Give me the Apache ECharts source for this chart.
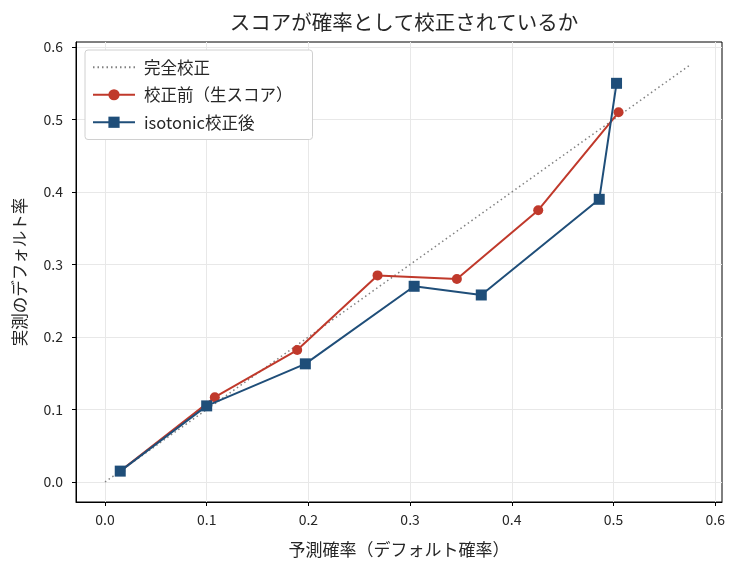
<!DOCTYPE html>
<html>
<head>
<meta charset="utf-8">
<script src="https://cdn.jsdelivr.net/npm/echarts@6/dist/echarts.min.js"></script>
<style>
  html, body { margin: 0; padding: 0; background: #fff; }
  #chart { width: 741px; height: 572px; }
</style>
</head>
<body>
<div id="chart"></div>
<script>
// 完全校正の対角線
const perfectLine = [[0, 0], [0.575, 0.575]];
// 校正前（生スコア）
const rawPred = [0.015, 0.108, 0.189, 0.268, 0.346, 0.426, 0.505];
const rawObs = [0.015, 0.117, 0.182, 0.285, 0.280, 0.375, 0.510];
// isotonic校正後
const isoPred = [0.015, 0.100, 0.197, 0.304, 0.370, 0.486, 0.503];
const isoObs = [0.015, 0.105, 0.163, 0.270, 0.258, 0.390, 0.550];
// 目盛り
const tickValues = [0, 0.1, 0.2, 0.3, 0.4, 0.5, 0.6];

const FONT = '"Noto Sans CJK JP", "Noto Sans", sans-serif';
const chart = echarts.init(document.getElementById('chart'));

const axisCommon = {
  type: 'value',
  axisLine: { show: true, onZero: false, lineStyle: { color: '#000', width: 1 } },
  axisTick: { show: true, inside: false, length: 4, customValues: tickValues, lineStyle: { color: '#000' } },
  axisLabel: {
    customValues: tickValues,
    color: '#262626', fontSize: 14, fontFamily: FONT,
    formatter: v => v.toFixed(1)
  },
  splitLine: { show: true, customValues: tickValues, lineStyle: { color: '#e8e8e8', width: 1 } },
  nameTextStyle: { color: '#262626', fontSize: 16.5, fontFamily: FONT }
};

const option = {
  animation: false,
  backgroundColor: '#fff',
  title: {
    text: 'スコアが確率として校正されているか',
    left: 399, top: 7, textAlign: 'center',
    textStyle: { fontSize: 20.5, fontWeight: 'normal', color: '#262626', fontFamily: FONT }
  },
  grid: {
    left: 76, right: 19, top: 42, bottom: 70,
    show: true, borderColor: '#000', borderWidth: 1, backgroundColor: 'transparent'
  },
  legend: {
    orient: 'vertical', left: 85, top: 50,
    padding: [9, 20, 9, 7], itemGap: 11,
    itemWidth: 42, itemHeight: 14,
    backgroundColor: '#fff', borderColor: '#d0d0d0', borderWidth: 1, borderRadius: 3,
    textStyle: { fontSize: 16.5, color: '#262626', fontFamily: FONT, padding: [0, 0, 0, 4] },
    data: [
      { name: '完全校正', itemStyle: { opacity: 0 } },
      '校正前（生スコア）',
      'isotonic校正後'
    ]
  },
  xAxis: Object.assign({}, axisCommon, {
    min: -0.0285, max: 0.6067,
    name: '予測確率（デフォルト確率）', nameLocation: 'middle', nameGap: 39,
    nameTextStyle: Object.assign({}, axisCommon.nameTextStyle, { fontSize: 17 }),
    axisLabel: Object.assign({}, axisCommon.axisLabel, { margin: 11 })
  }),
  yAxis: Object.assign({}, axisCommon, {
    min: -0.0276, max: 0.607,
    name: '実測のデフォルト率', nameLocation: 'middle', nameGap: 48,
    axisLabel: Object.assign({}, axisCommon.axisLabel, { margin: 13 })
  }),
  series: [
    {
      name: '完全校正', type: 'line', symbol: 'none',
      data: perfectLine,
      lineStyle: { color: '#808080', width: 1.5, type: [1.5, 3] },
      itemStyle: { color: '#808080' }, z: 1
    },
    {
      name: '校正前（生スコア）', type: 'line', symbol: 'circle', symbolSize: 10,
      data: rawPred.map((x, i) => [x, rawObs[i]]),
      lineStyle: { color: '#c0392b', width: 2 },
      itemStyle: { color: '#c0392b' }, z: 2
    },
    {
      name: 'isotonic校正後', type: 'line', symbol: 'rect', symbolSize: 11,
      data: isoPred.map((x, i) => [x, isoObs[i]]),
      lineStyle: { color: '#1f4e79', width: 2 },
      itemStyle: { color: '#1f4e79' }, z: 3
    }
  ]
};
chart.setOption(option);
</script>
</body>
</html>
